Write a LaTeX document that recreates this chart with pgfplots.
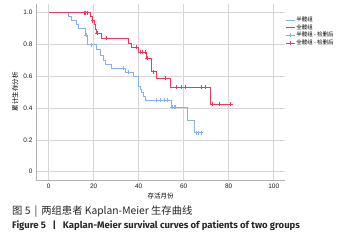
\documentclass[border=0pt]{standalone}
\usepackage{fontspec}
\setmainfont{Liberation Sans}
\newfontfamily\cjk{Noto Sans CJK SC}
\newfontfamily\capfont{Fira Sans}
\usepackage{pgfplots}
\pgfplotsset{compat=1.18}
\definecolor{kmblue}{RGB}{135,178,232}
\definecolor{kmred}{RGB}{222,62,98}
\definecolor{gridc}{RGB}{215,215,215}
\begin{document}
\begin{tikzpicture}[x=1pt,y=1pt]
\path[use as bounding box] (0,0) rectangle (352,245);
\begin{axis}[
  at={(36pt,65pt)}, anchor=south west,
  width=249pt, height=176pt, scale only axis,
  xmin=-5.6, xmax=105, ymin=-0.052, ymax=1.055,
  xtick={0,20,40,60,80,100},
  ytick={0,0.2,0.4,0.6,0.8,1.0},
  yticklabels={0,0.2,0.4,0.6,0.8,1.0},
  grid=major, major grid style={gridc, line width=0.8pt},
  axis x line*=bottom, axis y line*=left,
  axis line style={gray!60, line width=0.8pt, -},
  tick style={draw=none},
  tick label style={font=\fontsize{6.5}{7}\selectfont, text=black!90},
  /pgf/number format/assume math mode=true,
  xlabel={\cjk 存活月份}, ylabel={\cjk 累计生存分析},
  label style={font=\cjk\fontsize{6.5}{7}\selectfont},
  xlabel style={at={(axis description cs:0.5,-0.091)}, anchor=center},
  ylabel style={at={(axis description cs:-0.084,0.5)}, anchor=center},
  legend style={at={(axis description cs:1.0,0.935)}, anchor=north west, draw=none, fill=none,
    font=\cjk\fontsize{5.5}{6}\selectfont, row sep=-0.6pt, inner sep=0.5pt,
    nodes={inner sep=1pt}},
  legend cell align=left,
  legend image code/.code={\draw[#1] plot coordinates {(0pt,0pt)(4pt,0pt)(9pt,0pt)};},
]
% half group (blue)
\addplot[kmblue, line width=0.7pt, const plot, forget plot] coordinates {
(0,1.0) (8.7,0.98) (10.2,0.955) (12.4,0.93) (13.2,0.90) (16.1,0.86) (17.2,0.80)
(21.3,0.77) (22.8,0.735) (24.3,0.70) (25.0,0.675) (28.0,0.65) (34.0,0.625)
(37.6,0.60) (39.9,0.54) (40.6,0.52) (41.3,0.50) (42.1,0.475) (42.8,0.45)
(54.5,0.405) (61.8,0.325) (64.6,0.245) (67.7,0.245)};
\addplot[kmblue, only marks, mark=+, mark size=2pt, line width=0.6pt, forget plot] coordinates {
(16.6,0.86) (19.0,0.80) (33.2,0.65) (35.2,0.625) (48.0,0.45) (49.6,0.45) (51.2,0.45)
(52.8,0.45) (55.0,0.405) (55.7,0.405) (56.4,0.405) (65.6,0.245) (66.6,0.245) (67.6,0.245)};
% full group (red)
\addplot[kmred, line width=0.7pt, const plot, forget plot] coordinates {
(0,1.0) (18.7,0.975) (19.5,0.95) (20.1,0.925) (20.6,0.895) (21.3,0.87) (23.6,0.84)
(35.4,0.81) (36.9,0.785) (39.9,0.75) (43.6,0.715) (45.8,0.63) (48.0,0.59)
(53.9,0.53) (72.0,0.424) (81.0,0.424)};
\addplot[kmred, only marks, mark=+, mark size=2pt, line width=0.6pt, forget plot] coordinates {
(15.7,1.0) (16.3,1.0) (17.2,1.0) (19.5,0.95) (21.6,0.87) (25.8,0.84) (38.8,0.785)
(40.6,0.75) (41.8,0.75) (42.8,0.75) (43.8,0.715) (46.5,0.63) (51.7,0.59) (56.9,0.53)
(58.8,0.53) (60.6,0.53) (68.0,0.53) (69.8,0.53) (72.7,0.424) (75.7,0.424) (80.9,0.424)};
\addlegendimage{kmblue, line width=0.6pt}
\addlegendentry{半髋组}
\addlegendimage{kmred, line width=0.6pt}
\addlegendentry{全髋组}
\addlegendimage{kmblue, line width=0.5pt, mark=+, mark size=2pt, mark repeat=2, mark phase=2}
\addlegendentry{半髋组 - 检删后}
\addlegendimage{kmred, line width=0.5pt, mark=+, mark size=2pt, mark repeat=2, mark phase=2}
\addlegendentry{全髋组 - 检删后}
\end{axis}
\node[anchor=west, inner sep=0pt, font=\cjk\fontsize{10.3}{11}\selectfont, text=black!85] at (12,33.3)
  {图 5 \,|\, 两组患者 Kaplan-Meier 生存曲线};
\node[anchor=west, inner sep=0pt, font=\capfont\bfseries\fontsize{9.5}{10}\selectfont, text=black!85] at (12,19.3)
  {Figure 5 \ \ | \ \ Kaplan-Meier survival curves of patients of two groups};
\end{tikzpicture}
\end{document}
